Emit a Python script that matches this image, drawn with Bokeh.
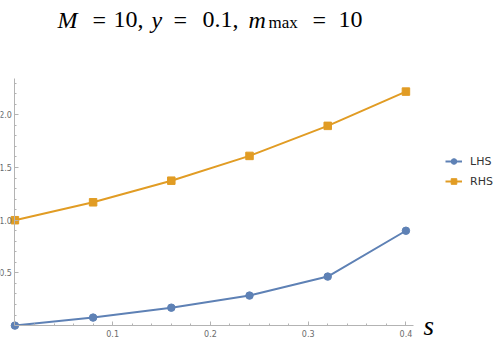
from bokeh.plotting import figure
from bokeh.models import (Range1d, Label, Legend, LegendItem, FixedTicker,
                          PrintfTickFormatter)
from bokeh.embed import file_html
from bokeh.resources import INLINE

s_vals = [0.0, 0.08, 0.16, 0.24, 0.32, 0.40]
lhs = [0.0, 0.076, 0.17, 0.285, 0.465, 0.90]
rhs = [1.0, 1.17, 1.375, 1.61, 1.895, 2.22]
x_major = [0.1, 0.2, 0.3, 0.4]
x_minor = [0.02, 0.04, 0.06, 0.08, 0.12, 0.14, 0.16, 0.18, 0.22, 0.24, 0.26, 0.28,
           0.32, 0.34, 0.36, 0.38]
y_major = [0.5, 1.0, 1.5, 2.0]
y_minor = [0.1, 0.2, 0.3, 0.4, 0.6, 0.7, 0.8, 0.9, 1.1, 1.2, 1.3, 1.4, 1.6, 1.7,
           1.8, 1.9, 2.1, 2.2, 2.3]

BLUE = "#5E81B5"
ORANGE = "#E19C24"
AX = "#b3b3b3"
TICKLAB = "#6b6b6b"

W, H = 498, 344
p = figure(width=W, height=H, output_backend="svg", toolbar_location=None,
           x_range=Range1d(-0.01473, 0.4947), y_range=Range1d(-0.1793, 3.0845),
           min_border=0, min_border_left=0, min_border_right=0,
           min_border_top=0, min_border_bottom=0)
p.outline_line_color = None
p.grid.visible = False

for ax in (p.xaxis[0], p.yaxis[0]):
    ax.fixed_location = 0
    ax.axis_line_color = AX
    ax.axis_line_width = 1
    ax.major_tick_line_color = AX
    ax.minor_tick_line_color = AX
    ax.major_tick_out = 0
    ax.minor_tick_out = 0
    ax.major_label_text_font = "DejaVu Sans"
    ax.major_label_text_font_size = "8px"
    ax.major_label_text_color = TICKLAB

p.xaxis[0].ticker = FixedTicker(ticks=x_major, minor_ticks=x_minor)
p.yaxis[0].ticker = FixedTicker(ticks=y_major, minor_ticks=y_minor)
p.xaxis[0].formatter = PrintfTickFormatter(format="%.1f")
p.yaxis[0].formatter = PrintfTickFormatter(format="%.1f")
p.xaxis[0].bounds = (0, 0.4077)
p.yaxis[0].bounds = (0, 2.34)
p.xaxis[0].major_tick_in = 4
p.xaxis[0].minor_tick_in = 2
p.yaxis[0].major_tick_in = 4
p.yaxis[0].minor_tick_in = 2
p.xaxis[0].major_label_standoff = 4
p.yaxis[0].major_label_standoff = 3

l1 = p.line(s_vals, lhs, line_color=BLUE, line_width=2)
c1 = p.scatter(s_vals, lhs, marker="circle", size=7.5, fill_color=BLUE, line_color=BLUE)
l2 = p.line(s_vals, rhs, line_color=ORANGE, line_width=2)
c2 = p.scatter(s_vals, rhs, marker="square", size=7.5, fill_color=ORANGE, line_color=ORANGE)

legend = Legend(items=[LegendItem(label="LHS", renderers=[l1, c1]),
                       LegendItem(label="RHS", renderers=[l2, c2])],
                location=(443, 154), background_fill_alpha=0, border_line_alpha=0,
                label_text_font="DejaVu Sans", label_text_font_size="11px",
                label_text_color="#333333", glyph_width=17, glyph_height=14,
                label_standoff=8, spacing=6, padding=2, margin=0)
p.add_layout(legend)

# title tokens (LaTeX-like); x/baseline given in window pixels from top-left
def tok(text, xw, base_w, size="24px", style="normal"):
    p.add_layout(Label(x=xw, y=H - base_w, x_units="screen", y_units="screen",
                       text=text, text_font="Liberation Serif",
                       text_font_size=size, text_font_style=style,
                       text_color="black", text_baseline="alphabetic", text_align="left"))

B = 19
tok("M", 57, B, style="italic")
tok("=", 92, B)
tok("10,", 113, B)
tok("y", 151, B, style="italic")
tok("=", 173, B)
tok("0.1,", 202, B)
tok("m", 248, B, style="italic")
tok("max", 268, B + 3, size="17px")
tok("=", 312, B)
tok("10", 338, B)
tok("s", 423, 325, size="27px", style="italic")

open("out.html", "w").write(file_html(p, INLINE))
